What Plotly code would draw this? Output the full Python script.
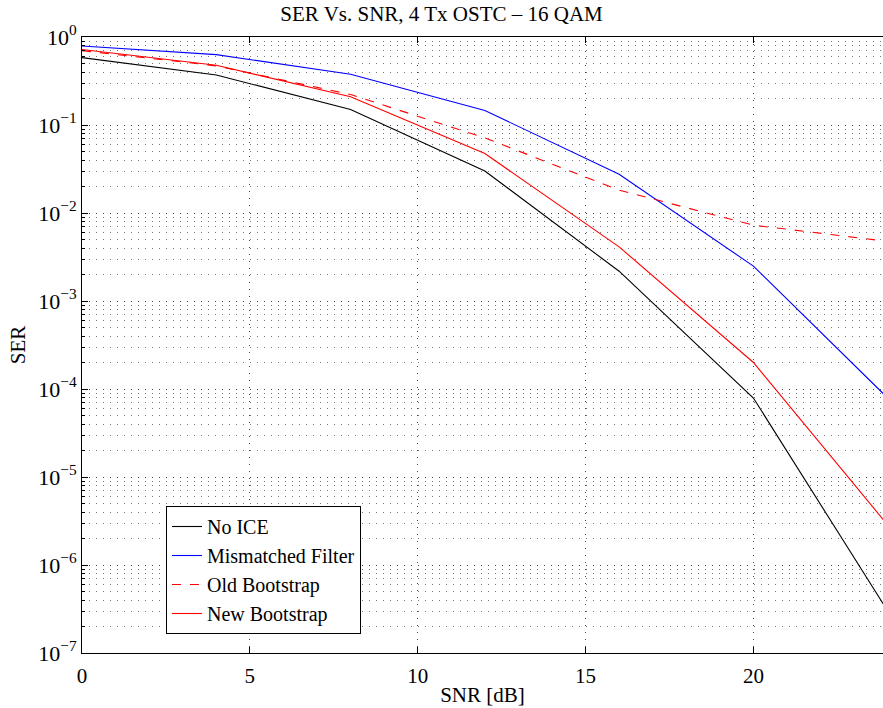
import plotly.graph_objects as go

# SNR points (dB) and symbol error rates for each receiver
snr_db = [0, 4, 8, 12, 16, 20, 24]
ser_no_ice = [0.583, 0.37, 0.150, 0.030, 0.00218, 7.9e-5, 3.0e-7]
ser_mismatched = [0.79, 0.63, 0.377, 0.146, 0.0276, 0.00249, 7.9e-5]
ser_old_boot = [0.70, 0.47, 0.222, 0.0713, 0.0182, 0.00727, 0.00476]
ser_new_boot = [0.72, 0.477, 0.209, 0.0474, 0.00412, 2.0e-4, 2.85e-6]

series_names = ["No ICE", "Mismatched Filter", "Old Bootstrap", "New Bootstrap"]
series_values = [ser_no_ice, ser_mismatched, ser_old_boot, ser_new_boot]
series_colors = ["#000000", "#0000ff", "#ff0000", "#ff0000"]
series_dash = ["solid", "solid", "9px,9px", "solid"]

x_ticks = [0, 5, 10, 15, 20]
y_exponents = [0, -1, -2, -3, -4, -5, -6, -7]
y_ticks = [10.0 ** e for e in y_exponents]
y_ticktext = ["10<sup>%s</sup>" % (str(e).replace("-", "\u2212")) for e in y_exponents]

FONT = "Liberation Serif"
GRID_DASH = "1px,6px"

fig = go.Figure()
for name, vals, col, dash in zip(series_names, series_values, series_colors, series_dash):
    fig.add_trace(go.Scatter(
        x=snr_db, y=vals, mode="lines", name=name,
        line=dict(color=col, width=1.1, dash=dash),
    ))

fig.update_layout(
    width=883, height=708,
    margin=dict(l=82, r=0, t=37, b=55),
    paper_bgcolor="white", plot_bgcolor="white",
    font=dict(family=FONT, color="black", size=20),
    title=dict(text="SER Vs. SNR, 4 Tx OSTC \u2013 16 QAM", x=0.5, xanchor="center",
               y=1 - 14 / 708, yanchor="middle", font=dict(size=21)),
    showlegend=True,
    legend=dict(x=(166 - 82) / 801, y=(653 - 506) / 616, xanchor="left", yanchor="top",
                bgcolor="white", bordercolor="black", borderwidth=1,
                font=dict(size=20), tracegroupgap=0),
)

fig.update_xaxes(
    range=[0, 23.86], tickvals=x_ticks, ticks="inside", ticklen=6,
    tickcolor="black", showline=True, linecolor="black", linewidth=1,
    mirror="ticks", showgrid=True, gridcolor="#444", griddash=GRID_DASH, gridwidth=1,
    zeroline=False, tickfont=dict(size=21), ticklabelstandoff=4,
    title=dict(text="SNR [dB]", font=dict(size=21), standoff=0),
)

fig.update_yaxes(
    type="log", range=[-7, 0], tickvals=y_ticks, ticktext=y_ticktext,
    ticks="inside", ticklen=6, tickcolor="black",
    showline=True, linecolor="black", linewidth=1, mirror=False,
    showgrid=True, gridcolor="#444", griddash=GRID_DASH, gridwidth=1,
    zeroline=False, tickfont=dict(size=22),
    minor=dict(ticks="inside", ticklen=3, tickcolor="black", dtick="D1",
               showgrid=True, gridcolor="#777", griddash=GRID_DASH, gridwidth=1),
    title=dict(text="SER", font=dict(size=21), standoff=6),
)

fig.write_html("out.html")
